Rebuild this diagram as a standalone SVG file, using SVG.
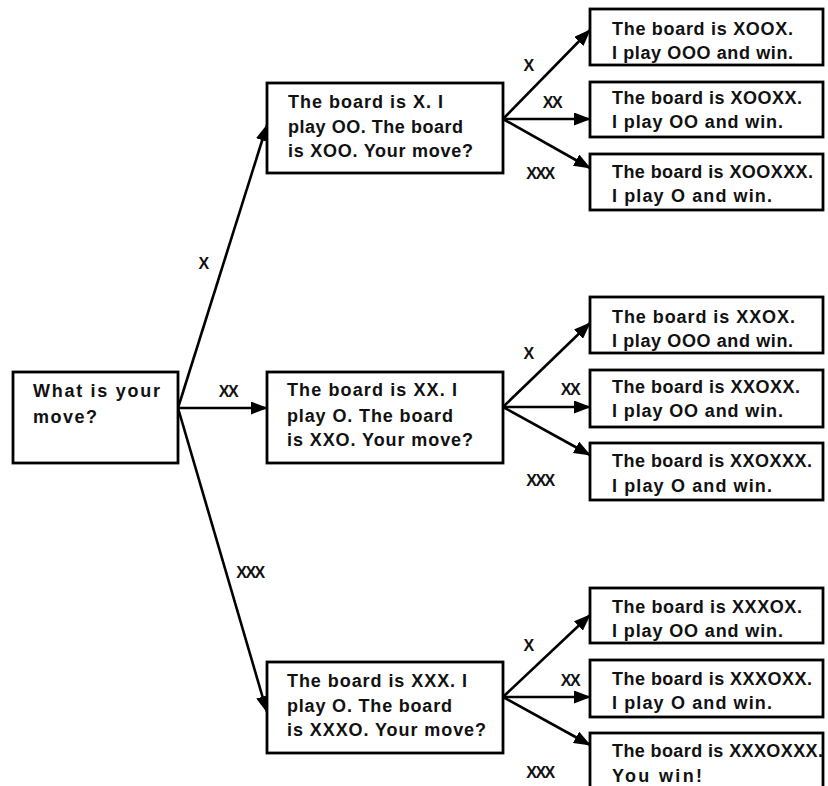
<svg xmlns="http://www.w3.org/2000/svg" width="828" height="786" viewBox="0 0 828 786">
<defs>
<style>
.box{fill:#fff;stroke:#000;stroke-width:2.8}
.t{font-family:"Liberation Sans",Arial,sans-serif;font-size:18px;font-weight:bold;fill:#111}
.lbl{font-family:"Liberation Sans",Arial,sans-serif;font-size:16px;font-weight:bold;fill:#111;text-anchor:middle;letter-spacing:-1.5px}
.e{stroke:#000;stroke-width:2.6;fill:none;marker-end:url(#ah)}
</style>
<marker id="ah" markerUnits="userSpaceOnUse" markerWidth="17" markerHeight="13" refX="16" refY="6.5" orient="auto">
<path d="M0,0 L17,6.5 L0,13 z" fill="#000"/>
</marker>
</defs>
<rect width="828" height="786" fill="#fff"/>

<g id="connectors">
<line class="e" x1="178" y1="408" x2="267" y2="125"/>
<line class="e" x1="178" y1="408" x2="267" y2="408"/>
<line class="e" x1="178" y1="408" x2="267" y2="712"/>
<line class="e" x1="503" y1="119" x2="590" y2="30"/>
<line class="e" x1="503" y1="119" x2="590" y2="119"/>
<line class="e" x1="503" y1="119" x2="590" y2="168"/>
<line class="e" x1="503" y1="407" x2="590" y2="323"/>
<line class="e" x1="503" y1="407" x2="590" y2="407"/>
<line class="e" x1="503" y1="407" x2="590" y2="455"/>
<line class="e" x1="503" y1="697" x2="590" y2="615"/>
<line class="e" x1="503" y1="697" x2="590" y2="697"/>
<line class="e" x1="503" y1="697" x2="590" y2="745"/>
<text class="lbl" x="203" y="269">X</text>
<text class="lbl" x="228" y="397">XX</text>
<text class="lbl" x="250" y="578">XXX</text>
<text class="lbl" x="528" y="71">X</text>
<text class="lbl" x="552" y="108">XX</text>
<text class="lbl" x="540" y="179">XXX</text>
<text class="lbl" x="528" y="359">X</text>
<text class="lbl" x="570" y="395">XX</text>
<text class="lbl" x="540" y="486">XXX</text>
<text class="lbl" x="528" y="651">X</text>
<text class="lbl" x="570" y="686">XX</text>
<text class="lbl" x="540" y="778">XXX</text>
</g>

<g id="root">
<rect class="box" x="13" y="372" width="165" height="91"/>
<text class="t" x="33" y="397" textLength="127" lengthAdjust="spacing">What is your</text>
<text class="t" x="33" y="423" textLength="64" lengthAdjust="spacing">move?</text>
</g>

<g id="mid1">
<rect class="box" x="267" y="83" width="236" height="90"/>
<text class="t" x="288" y="108" textLength="155" lengthAdjust="spacing">The board is X. I</text>
<text class="t" x="288" y="133" textLength="175" lengthAdjust="spacing">play OO. The board</text>
<text class="t" x="288" y="157" textLength="185" lengthAdjust="spacing">is XOO. Your move?</text>
</g>

<g id="mid2">
<rect class="box" x="267" y="372" width="236" height="91"/>
<text class="t" x="287" y="396" textLength="170" lengthAdjust="spacing">The board is XX. I</text>
<text class="t" x="287" y="422" textLength="166" lengthAdjust="spacing">play O. The board</text>
<text class="t" x="287" y="446" textLength="186" lengthAdjust="spacing">is XXO. Your move?</text>
</g>

<g id="mid3">
<rect class="box" x="267" y="662" width="236" height="91"/>
<text class="t" x="287" y="687" textLength="180" lengthAdjust="spacing">The board is XXX. I</text>
<text class="t" x="287" y="712" textLength="165" lengthAdjust="spacing">play O. The board</text>
<text class="t" x="287" y="736" textLength="199" lengthAdjust="spacing">is XXXO. Your move?</text>
</g>

<g id="leaf1">
<rect class="box" x="590" y="9" width="233" height="56"/>
<text class="t" x="612" y="35" textLength="181" lengthAdjust="spacing">The board is XOOX.</text>
<text class="t" x="612" y="59" textLength="181" lengthAdjust="spacing">I play OOO and win.</text>
</g>
<g id="leaf2">
<rect class="box" x="590" y="82" width="233" height="55"/>
<text class="t" x="612" y="104" textLength="190" lengthAdjust="spacing">The board is XOOXX.</text>
<text class="t" x="612" y="128" textLength="171" lengthAdjust="spacing">I play OO and win.</text>
</g>
<g id="leaf3">
<rect class="box" x="590" y="154" width="233" height="56"/>
<text class="t" x="612" y="178" textLength="201" lengthAdjust="spacing">The board is XOOXXX.</text>
<text class="t" x="612" y="202" textLength="160" lengthAdjust="spacing">I play O and win.</text>
</g>

<g id="leaf4">
<rect class="box" x="590" y="297" width="233" height="56"/>
<text class="t" x="612" y="323" textLength="183" lengthAdjust="spacing">The board is XXOX.</text>
<text class="t" x="612" y="347" textLength="181" lengthAdjust="spacing">I play OOO and win.</text>
</g>
<g id="leaf5">
<rect class="box" x="590" y="370" width="233" height="57"/>
<text class="t" x="612" y="393" textLength="188" lengthAdjust="spacing">The board is XXOXX.</text>
<text class="t" x="612" y="417" textLength="171" lengthAdjust="spacing">I play OO and win.</text>
</g>
<g id="leaf6">
<rect class="box" x="590" y="443" width="233" height="57"/>
<text class="t" x="612" y="467" textLength="200" lengthAdjust="spacing">The board is XXOXXX.</text>
<text class="t" x="612" y="492" textLength="160" lengthAdjust="spacing">I play O and win.</text>
</g>

<g id="leaf7">
<rect class="box" x="590" y="588" width="233" height="55"/>
<text class="t" x="612" y="613" textLength="190" lengthAdjust="spacing">The board is XXXOX.</text>
<text class="t" x="612" y="637" textLength="171" lengthAdjust="spacing">I play OO and win.</text>
</g>
<g id="leaf8">
<rect class="box" x="590" y="660" width="233" height="57"/>
<text class="t" x="612" y="685" textLength="200" lengthAdjust="spacing">The board is XXXOXX.</text>
<text class="t" x="612" y="709" textLength="160" lengthAdjust="spacing">I play O and win.</text>
</g>
<g id="leaf9">
<rect class="box" x="590" y="733" width="233" height="60"/>
<text class="t" x="612" y="757" textLength="211" lengthAdjust="spacing">The board is XXXOXXX.</text>
<text class="t" x="612" y="782" textLength="90" lengthAdjust="spacing">You win!</text>
</g>
</svg>
